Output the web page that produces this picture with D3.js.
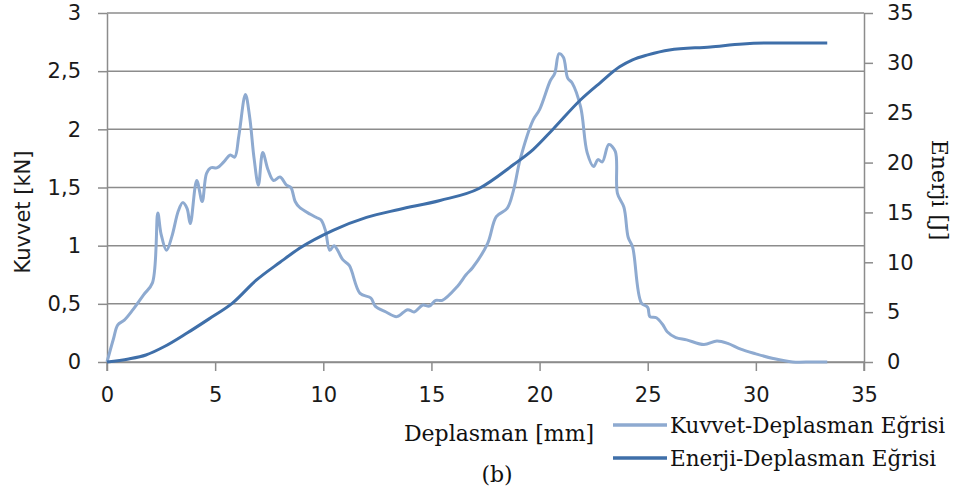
<!DOCTYPE html>
<html>
<head>
<meta charset="utf-8">
<script src="https://cdn.jsdelivr.net/npm/d3@7"></script>
<style>
  body { margin: 0; background: #fff; }
  .axis text { font-family: "DejaVu Sans", sans-serif; font-size: 21px; fill: #1a1a1a; }
  .axis path, .axis line { stroke: #8c8c8c; stroke-width: 1.5; }
  .title { font-family: "DejaVu Serif", serif; font-size: 22px; fill: #111; }
</style>
</head>
<body>
<div id="chart"></div>
<script>
// force-displacement (mm, kN)
var kuvvetX = [0, 0.3, 0.5, 0.8, 1.2, 1.7, 2.1, 2.35, 2.5, 2.75, 3.0, 3.3, 3.5, 3.7, 3.85, 4.15, 4.4, 4.6, 4.8, 5.1, 5.4, 5.7, 5.9, 6.1, 6.4, 6.6, 6.8, 7.0, 7.2, 7.45, 7.7, 8.0, 8.3, 8.5, 8.7, 8.9, 9.4, 9.7, 9.9, 10.1, 10.3, 10.5, 10.9, 11.2, 11.7, 12.2, 12.4, 12.9, 13.4, 13.9, 14.2, 14.6, 14.9, 15.2, 15.5, 16.2, 16.6, 16.9, 17.6, 18.0, 18.5, 18.8, 19.1, 19.7, 20.0, 20.5, 20.7, 20.9, 21.1, 21.3, 21.5, 21.9, 22.2, 22.5, 22.7, 22.9, 23.2, 23.5, 23.6, 23.9, 24.1, 24.3, 24.7, 25.0, 25.1, 25.4, 25.7, 25.9, 26.3, 26.8, 27.6, 28.2, 28.7, 29.3, 30.0, 30.8, 31.7, 32.6, 33.3];
var kuvvetY = [0, 0.2, 0.32, 0.36, 0.45, 0.58, 0.68, 1.28, 1.1, 0.96, 1.08, 1.3, 1.37, 1.32, 1.19, 1.56, 1.38, 1.62, 1.67, 1.67, 1.72, 1.78, 1.76, 1.95, 2.3, 2.1, 1.75, 1.52, 1.8, 1.65, 1.56, 1.59, 1.52, 1.5, 1.38, 1.33, 1.27, 1.24, 1.22, 1.13, 0.96, 1.0, 0.88, 0.83, 0.59, 0.55, 0.48, 0.43, 0.39, 0.45, 0.43, 0.49, 0.48, 0.53, 0.53, 0.65, 0.75, 0.81, 1.02, 1.25, 1.32, 1.48, 1.74, 2.08, 2.17, 2.42, 2.48, 2.65, 2.62, 2.44, 2.4, 2.19, 1.8, 1.68, 1.74, 1.72, 1.87, 1.81, 1.45, 1.33, 1.07, 0.99, 0.51, 0.47, 0.39, 0.38, 0.32, 0.26, 0.21, 0.19, 0.15, 0.18, 0.16, 0.11, 0.07, 0.03, 0.0, 0.0, 0.0];

// energy-displacement (mm, J)
var enerjiX = [0, 1.0, 1.8, 2.7, 3.7, 4.7, 5.8, 6.9, 8.0, 8.9, 10.45, 12.0, 13.5, 15.4, 17.2, 18.8, 19.7, 20.6, 21.9, 22.8, 23.7, 24.3, 25.0, 26.0, 27.9, 29.4, 31.0, 33.3];
var enerjiY = [0, 0.3, 0.7, 1.6, 2.9, 4.3, 5.9, 8.2, 10.0, 11.4, 13.2, 14.5, 15.3, 16.2, 17.4, 19.8, 21.3, 23.3, 26.3, 28.0, 29.6, 30.3, 30.8, 31.3, 31.6, 31.9, 32.0, 32.0];

var xTicks = [0, 5, 10, 15, 20, 25, 30, 35];
var leftTicks = [0, 0.5, 1, 1.5, 2, 2.5, 3];
var rightTicks = [0, 5, 10, 15, 20, 25, 30, 35];

var seriesNames = ["Kuvvet-Deplasman Eğrisi", "Enerji-Deplasman Eğrisi"];
var colors = ["#8eaad0", "#3f6fa9"];

var width = 959, height = 494;
var margin = { top: 13, right: 95, bottom: 132, left: 107 };
var w = width - margin.left - margin.right,
    h = height - margin.top - margin.bottom;

var svg = d3.select("#chart").append("svg")
    .attr("width", width)
    .attr("height", height);

var g = svg.append("g")
    .attr("transform", "translate(" + margin.left + "," + margin.top + ")");

var x = d3.scaleLinear().domain([0, 35]).range([0, w]);
var yL = d3.scaleLinear().domain([0, 3]).range([h, 0]);
var yR = d3.scaleLinear().domain([0, 35]).range([h, 0]);

var fmt = function(d) { return String(d).replace(".", ","); };

// gridlines
g.append("g").selectAll("line")
    .data(leftTicks)
    .enter().append("line")
    .attr("x1", 0).attr("x2", w)
    .attr("y1", function(d) { return yL(d); })
    .attr("y2", function(d) { return yL(d); })
    .attr("stroke", "#8c8c8c")
    .attr("stroke-width", 1.5);

// axes
g.append("g")
    .attr("class", "axis")
    .attr("transform", "translate(0," + h + ")")
    .call(d3.axisBottom(x).tickValues(xTicks).tickSize(9).tickSizeOuter(0).tickPadding(16));

g.append("g")
    .attr("class", "axis")
    .call(d3.axisLeft(yL).tickValues(leftTicks).tickFormat(fmt).tickSize(9).tickSizeOuter(0).tickPadding(17));

g.append("g")
    .attr("class", "axis")
    .attr("transform", "translate(" + w + ",0)")
    .call(d3.axisRight(yR).tickValues(rightTicks).tickSize(9).tickSizeOuter(0).tickPadding(14));

// vertical axis lines run a little below the baseline
[0, w].forEach(function(px) {
    g.append("line")
        .attr("x1", px).attr("x2", px)
        .attr("y1", h).attr("y2", h + 9)
        .attr("stroke", "#8c8c8c").attr("stroke-width", 1.5);
});

// lines
var kuvvetLine = d3.line()
    .curve(d3.curveCatmullRom.alpha(0.5))
    .x(function(d) { return x(d[0]); })
    .y(function(d) { return yL(d[1]); });

var enerjiLine = d3.line()
    .curve(d3.curveMonotoneX)
    .x(function(d) { return x(d[0]); })
    .y(function(d) { return yR(d[1]); });

g.append("path")
    .datum(d3.zip(kuvvetX, kuvvetY))
    .attr("fill", "none")
    .attr("stroke", colors[0])
    .attr("stroke-width", 3)
    .attr("stroke-linejoin", "round")
    .attr("d", kuvvetLine);

g.append("path")
    .datum(d3.zip(enerjiX, enerjiY))
    .attr("fill", "none")
    .attr("stroke", colors[1])
    .attr("stroke-width", 3)
    .attr("stroke-linejoin", "round")
    .attr("d", enerjiLine);

// axis titles
svg.append("text")
    .attr("transform", "translate(30,212) rotate(-90)")
    .attr("text-anchor", "middle")
    .style("font-family", "DejaVu Sans, sans-serif")
    .style("font-size", "21px")
    .style("fill", "#1a1a1a")
    .text("Kuvvet [kN]");

svg.append("text")
    .attr("class", "title")
    .attr("transform", "translate(932,190) rotate(90)")
    .attr("text-anchor", "middle")
    .text("Enerji [J]");

svg.append("text")
    .attr("class", "title")
    .attr("x", 499).attr("y", 441)
    .attr("text-anchor", "middle")
    .text("Deplasman [mm]");

svg.append("text")
    .attr("class", "title")
    .attr("x", 497).attr("y", 482)
    .attr("text-anchor", "middle")
    .text("(b)");

// legend
var legend = svg.append("g").attr("transform", "translate(613,425)");
seriesNames.forEach(function(name, i) {
    var row = legend.append("g").attr("transform", "translate(0," + (i * 33) + ")");
    row.append("line")
        .attr("x1", 0).attr("x2", 54)
        .attr("stroke", colors[i]).attr("stroke-width", 3.5);
    row.append("text")
        .attr("class", "title")
        .style("font-size", "21.5px")
        .attr("x", 57).attr("y", 7.5)
        .text(name);
});
</script>
</body>
</html>
